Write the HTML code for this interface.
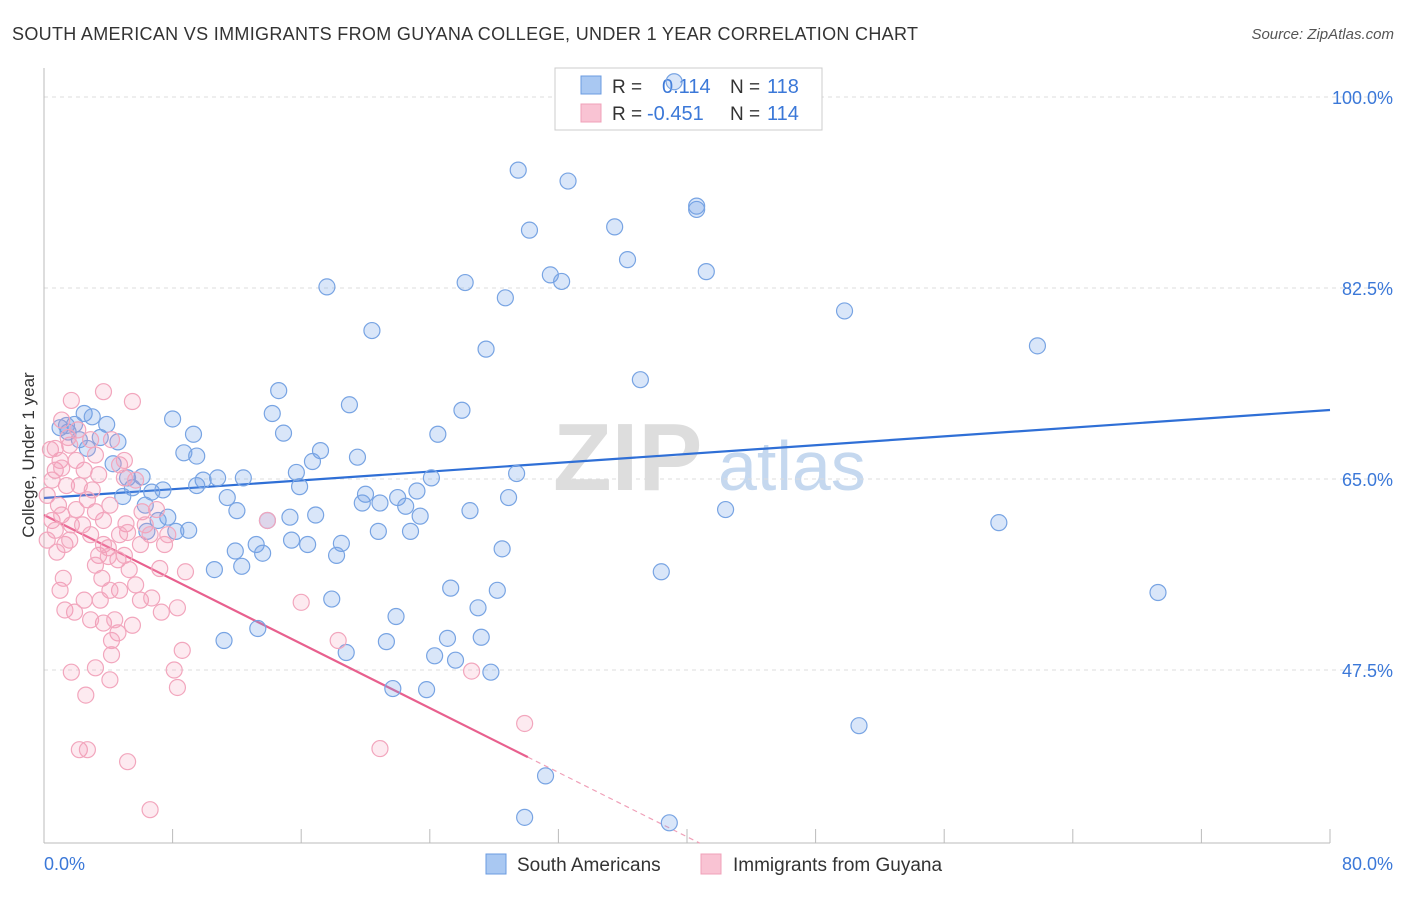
<!DOCTYPE html>
<html><head><meta charset="utf-8">
<style>
body{margin:0;background:#fff;font-family:"Liberation Sans",sans-serif;}
svg text{font-family:"Liberation Sans",sans-serif;}
</style></head>
<body>
<svg id="chart" width="1406" height="892" xmlns="http://www.w3.org/2000/svg">
<text x="12" y="40" font-size="18" fill="#333" textLength="906" lengthAdjust="spacing">SOUTH AMERICAN VS IMMIGRANTS FROM GUYANA COLLEGE, UNDER 1 YEAR CORRELATION CHART</text>
<text x="1394" y="39" font-size="15" fill="#555" text-anchor="end" font-style="italic">Source: ZipAtlas.com</text>
<text transform="translate(34,455) rotate(-90)" font-size="17" fill="#333" text-anchor="middle">College, Under 1 year</text>
<g>
<text x="553" y="490" font-size="96" fill="#ddd" font-family="Liberation Serif" font-weight="bold">ZIP</text>
<text x="718" y="490" font-size="70" fill="#c5d8ef">atlas</text>
</g>
<g id="grid"></g>
<g id="axes"></g>
<g id="lines"></g>
<g>
<rect x="555" y="68" width="267" height="62" fill="#fff" stroke="#ccc"/>
<rect x="581" y="76" width="20" height="18" fill="#a9c8f2" stroke="#6b9be0"/>
<rect x="581" y="104" width="20" height="18" fill="#f9c3d3" stroke="#f0a0b8"/>
<text x="612" y="93" font-size="19" fill="#333">R =</text>
<text x="662" y="93" font-size="20" fill="#3b78d8">0.114</text>
<text x="730" y="93" font-size="19" fill="#333">N =</text>
<text x="767" y="93" font-size="20" fill="#3b78d8">118</text>
<text x="612" y="120" font-size="19" fill="#333">R =</text>
<text x="647" y="120" font-size="20" fill="#3b78d8">-0.451</text>
<text x="730" y="120" font-size="19" fill="#333">N =</text>
<text x="767" y="120" font-size="20" fill="#3b78d8">114</text>
</g>
<g id="pts"></g>
<g>
<rect x="486" y="854" width="20" height="20" fill="#a9c8f2" stroke="#6b9be0"/>
<text x="517" y="871" font-size="19" fill="#333">South Americans</text>
<rect x="701" y="854" width="20" height="20" fill="#f9c3d3" stroke="#f0a0b8"/>
<text x="733" y="871" font-size="19" fill="#333">Immigrants from Guyana</text>
</g>
</svg>
<script>
const yTicks=[47.5,65,82.5,100];
const yTickLabels=["47.5%","65.0%","82.5%","100.0%"];
const xTicks=[0,8,16,24,32,40,48,56,64,72,80];
const blueX=[29.5,32.6,40.6,40.6,30.2,35.5,36.3,31.5,32.2,41.2,26.2,28.7,17.6,49.8,20.4,27.5,61.8,37.1,14.6,19.0,26.0,8.0,14.2,14.9,24.5,9.3,17.2,8.7,9.5,16.7,19.5,15.7,12.4,10.8,9.9,9.5,15.9,24.1,29.4,20.0,22.0,20.9,19.8,22.5,23.2,28.9,11.4,12.0,23.4,26.5,16.9,15.3,13.9,42.4,59.4,20.8,22.8,15.4,16.4,18.5,11.9,13.2,13.6,18.2,28.5,12.3,10.6,38.4,17.9,25.3,28.2,69.3,21.9,27.0,11.2,13.3,21.3,25.1,27.2,18.8,24.3,25.6,27.8,21.7,23.8,50.7,31.2,29.9,38.9,1.0,1.5,1.9,2.5,3.0,3.9,3.5,4.6,2.2,2.7,4.3,6.1,5.2,5.5,4.9,6.7,6.3,7.7,7.1,6.4,9.0,8.2,1.4,7.4,39.2];
const blueY=[93.3,92.3,89.7,90.0,87.8,88.1,85.1,83.7,83.1,84.0,83.0,81.6,82.6,80.4,78.6,76.9,77.2,74.1,73.1,71.8,71.3,70.5,71.0,69.2,69.1,69.1,67.6,67.4,67.1,66.6,67.0,65.6,65.1,65.1,64.9,64.4,64.3,65.1,65.5,63.6,63.3,62.8,62.8,62.5,63.9,63.3,63.3,62.1,61.6,62.1,61.7,61.5,61.2,62.2,61.0,60.2,60.2,59.4,59.0,59.1,58.4,59.0,58.2,58.0,58.6,57.0,56.7,56.5,54.0,55.0,54.8,54.6,52.4,53.2,50.2,51.3,50.1,50.4,50.5,49.1,48.8,48.4,47.3,45.8,45.7,42.4,37.8,34.0,33.5,69.7,69.3,70.0,71.0,70.7,70.0,68.8,68.4,68.6,67.8,66.4,65.2,65.1,64.2,63.4,63.8,62.6,61.5,61.2,60.2,60.3,60.2,69.9,64.0,101.4];
const pinkX=[0.4,0.7,0.5,0.2,1.0,0.9,0.5,1.1,0.7,0.2,1.3,0.8,1.6,1.7,1.0,1.2,1.3,1.9,1.7,2.6,2.2,2.7,5.2,6.6,3.2,4.1,4.2,3.7,4.6,4.2,2.9,3.6,3.4,3.2,4.0,4.6,5.0,3.7,4.1,3.2,3.0,3.4,2.5,2.0,1.6,2.1,1.7,3.7,5.5,1.1,1.5,2.9,3.2,4.2,4.7,5.0,5.0,5.7,5.1,5.2,6.1,6.3,7.0,6.6,7.5,7.7,7.2,5.3,5.7,4.7,6.0,6.7,7.3,8.3,8.8,5.5,4.4,8.6,8.1,8.3,13.9,16.0,18.3,20.9,26.6,29.9,1.1,0.7,1.4,2.2,2.7,2.0,2.4,2.9,3.7,4.0,4.7,6.0,4.1,3.5,2.5];
const pinkY=[67.7,65.8,64.9,63.5,66.7,62.6,61.2,61.7,60.3,59.4,59.0,58.3,59.4,60.8,54.8,55.9,53.0,52.8,47.3,45.2,40.2,40.2,39.1,34.7,47.7,46.6,48.9,51.8,50.9,50.2,52.1,55.9,58.0,57.1,58.7,57.6,58.0,61.2,62.6,62.0,64.0,65.4,65.8,66.7,68.1,69.5,72.2,73.0,72.1,70.4,68.8,68.6,67.2,68.6,66.3,66.7,65.1,64.9,60.9,60.1,62.0,60.8,62.2,59.9,59.0,59.9,56.8,56.7,55.3,54.8,53.9,54.1,52.8,53.2,56.5,51.6,52.1,49.3,47.5,45.9,61.2,53.7,50.2,40.3,47.4,42.6,66.0,67.8,64.4,64.4,63.1,62.2,60.8,59.9,59.0,57.9,59.9,59.0,54.8,53.9,53.9];
const blueFit=[63.26,0.1008];   // intercept, slope
const pinkFit=[61.7,-0.737];
const pinkSolidEnd=30.1, pinkDashEnd=40.8;

const X0=44,X1=1330,Y100=97,PX_PER=191/17.5;
const sx=v=>X0+(v/80)*(X1-X0);
const sy=v=>Y100+(100-v)*PX_PER;
const NS="http://www.w3.org/2000/svg";
function mk(tag,attrs,parent){const e=document.createElementNS(NS,tag);for(const k in attrs)e.setAttribute(k,attrs[k]);parent.appendChild(e);return e;}
const grid=document.getElementById('grid'),axes=document.getElementById('axes'),lines=document.getElementById('lines'),pts=document.getElementById('pts');
yTicks.forEach((t,i)=>{
  const l=mk('line',{x1:44,x2:1394,y1:sy(t),y2:sy(t),stroke:'#ddd','stroke-dasharray':'4,4'},grid);
  
  
  const tx=mk('text',{x:1393,y:sy(t)+7,'font-size':18,fill:'#3b78d8','text-anchor':'end'},axes);
  tx.textContent=yTickLabels[i];
  
  
});
const ax=mk('line',{x1:44,x2:1330,y1:843,y2:843,stroke:'#bbb'},axes);


const ay=mk('line',{x1:44,x2:44,y1:68,y2:843,stroke:'#bbb'},axes);


xTicks.forEach(t=>{
  const l=mk('line',{x1:sx(t),x2:sx(t),y1:829,y2:843,stroke:'#bbb'},axes);
  
  
});
const xl0=mk('text',{x:44,y:870,'font-size':18,fill:'#3b78d8'},axes);xl0.textContent='0.0%';


const xl1=mk('text',{x:1393,y:870,'font-size':18,fill:'#3b78d8','text-anchor':'end'},axes);xl1.textContent='80.0%';



blueX.forEach((x,i)=>{
  const c=mk('circle',{cx:sx(x),cy:sy(blueY[i]),r:8,fill:'rgba(110,160,230,0.26)',stroke:'#78a4e3','stroke-width':1.2},pts);
  
  
});
pinkX.forEach((x,i)=>{
  const c=mk('circle',{cx:sx(x),cy:sy(pinkY[i]),r:8,fill:'rgba(245,150,180,0.2)',stroke:'#f2a6bd','stroke-width':1.2},pts);
  
  
});
const f=(fit,x)=>fit[0]+fit[1]*x;
const bl=mk('line',{x1:sx(0),y1:sy(f(blueFit,0)),x2:sx(80),y2:sy(f(blueFit,80)),stroke:'#2f6fd6','stroke-width':2.2},lines);


const pl=mk('line',{x1:sx(0),y1:sy(f(pinkFit,0)),x2:sx(pinkSolidEnd),y2:sy(f(pinkFit,pinkSolidEnd)),stroke:'#e8608e','stroke-width':2.2},lines);


const pd=mk('line',{x1:sx(pinkSolidEnd),y1:sy(f(pinkFit,pinkSolidEnd)),x2:sx(pinkDashEnd),y2:sy(f(pinkFit,pinkDashEnd)),stroke:'#f0a0b8','stroke-width':1.2,'stroke-dasharray':'5,4'},lines);


</script>
</body></html>
